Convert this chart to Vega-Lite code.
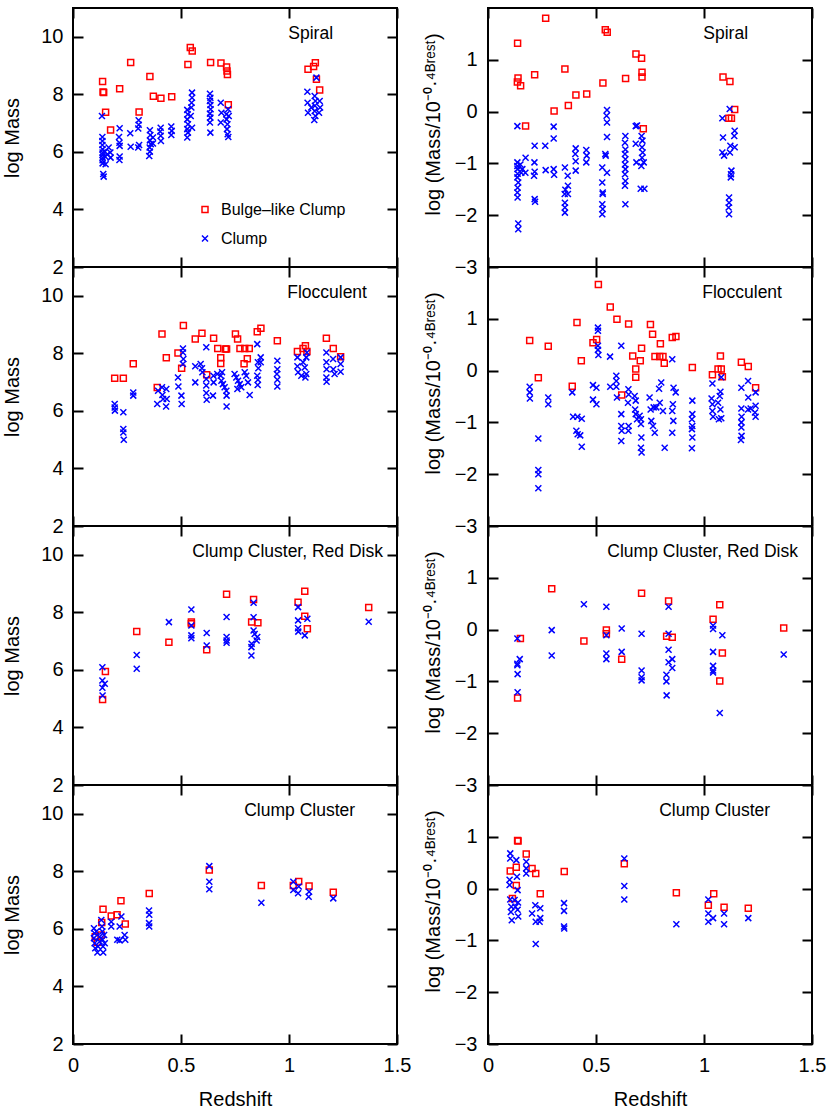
{
"$schema": "https://vega.github.io/schema/vega-lite/v6.json",
"padding": {"left": 1, "top": 6, "right": 5, "bottom": 5},
"config": {
 "font": "Liberation Sans",
 "view": {"stroke": "black", "strokeWidth": 2},
 "axis": {"grid": false, "domain": false, "ticks": true, "tickColor": "#000000", "tickOpacity": 1, "tickWidth": 2, "tickSize": 10, "offset": -10, "zindex": 1, "labelColor": "black", "titleColor": "black", "labelFont": "Liberation Sans", "titleFont": "Liberation Sans", "titleFontWeight": "normal", "labelFontSize": 20, "titleFontSize": 20, "labelFlush": false, "labelOverlap": false},
 "text": {"font": "Liberation Sans", "fontSize": 17.5, "color": "black"}
},
"datasets": {
"spiral_mass": [
{"t":"B","z":0.137,"v":8.45},{"t":"B","z":0.139,"v":8.08},{"t":"B","z":0.142,"v":8.06},{"t":"B","z":0.151,"v":7.38},{"t":"B","z":0.174,"v":6.76},{"t":"B","z":0.216,"v":8.19},{"t":"B","z":0.267,"v":9.11},{"t":"B","z":0.306,"v":7.39},{"t":"B","z":0.356,"v":8.62},{"t":"B","z":0.372,"v":7.93},{"t":"B","z":0.407,"v":7.86},{"t":"B","z":0.457,"v":7.92},{"t":"B","z":0.532,"v":9.04},{"t":"B","z":0.543,"v":9.63},{"t":"B","z":0.552,"v":9.51},{"t":"B","z":0.637,"v":9.11},{"t":"B","z":0.685,"v":9.09},{"t":"B","z":0.711,"v":8.95},{"t":"B","z":0.713,"v":8.81},{"t":"B","z":0.715,"v":8.69},{"t":"B","z":0.719,"v":7.64},{"t":"B","z":1.088,"v":8.87},{"t":"B","z":1.114,"v":8.97},{"t":"B","z":1.122,"v":9.10},{"t":"B","z":1.127,"v":8.52},{"t":"B","z":1.142,"v":8.15},
{"t":"C","z":0.134,"v":7.25},{"t":"C","z":0.136,"v":6.52},{"t":"C","z":0.136,"v":6.38},{"t":"C","z":0.136,"v":6.24},{"t":"C","z":0.137,"v":6.09},{"t":"C","z":0.137,"v":5.98},{"t":"C","z":0.137,"v":5.90},{"t":"C","z":0.137,"v":5.80},{"t":"C","z":0.137,"v":5.71},{"t":"C","z":0.137,"v":5.60},{"t":"C","z":0.140,"v":5.23},{"t":"C","z":0.142,"v":5.14},{"t":"C","z":0.147,"v":6.00},{"t":"C","z":0.150,"v":5.83},{"t":"C","z":0.151,"v":5.57},{"t":"C","z":0.159,"v":5.92},{"t":"C","z":0.165,"v":6.15},{"t":"C","z":0.173,"v":5.98},{"t":"C","z":0.174,"v":5.80},
{"t":"C","z":0.216,"v":6.82},{"t":"C","z":0.213,"v":6.52},{"t":"C","z":0.215,"v":6.32},{"t":"C","z":0.216,"v":6.21},{"t":"C","z":0.216,"v":5.84},{"t":"C","z":0.215,"v":5.72},
{"t":"C","z":0.265,"v":6.65},{"t":"C","z":0.267,"v":6.18},
{"t":"C","z":0.304,"v":7.10},{"t":"C","z":0.304,"v":6.94},{"t":"C","z":0.302,"v":6.81},{"t":"C","z":0.306,"v":6.24},{"t":"C","z":0.302,"v":6.15},
{"t":"C","z":0.356,"v":6.75},{"t":"C","z":0.358,"v":6.59},{"t":"C","z":0.356,"v":6.40},{"t":"C","z":0.360,"v":6.27},{"t":"C","z":0.355,"v":6.15},{"t":"C","z":0.356,"v":6.01},{"t":"C","z":0.353,"v":5.86},{"t":"C","z":0.370,"v":6.50},{"t":"C","z":0.370,"v":6.29},
{"t":"C","z":0.406,"v":6.84},{"t":"C","z":0.404,"v":6.71},{"t":"C","z":0.406,"v":6.56},{"t":"C","z":0.407,"v":6.38},
{"t":"C","z":0.455,"v":6.88},{"t":"C","z":0.457,"v":6.73},{"t":"C","z":0.455,"v":6.59},
{"t":"C","z":0.529,"v":7.46},{"t":"C","z":0.531,"v":7.31},{"t":"C","z":0.529,"v":7.13},{"t":"C","z":0.532,"v":6.96},{"t":"C","z":0.529,"v":6.79},{"t":"C","z":0.532,"v":6.67},{"t":"C","z":0.529,"v":6.50},{"t":"C","z":0.551,"v":8.06},{"t":"C","z":0.551,"v":7.88},{"t":"C","z":0.549,"v":7.71},{"t":"C","z":0.548,"v":7.54},{"t":"C","z":0.545,"v":7.25},{"t":"C","z":0.551,"v":6.84},
{"t":"C","z":0.634,"v":8.02},{"t":"C","z":0.636,"v":7.88},{"t":"C","z":0.634,"v":7.77},{"t":"C","z":0.636,"v":7.63},{"t":"C","z":0.637,"v":7.48},{"t":"C","z":0.634,"v":7.33},{"t":"C","z":0.636,"v":7.19},{"t":"C","z":0.634,"v":7.02},{"t":"C","z":0.636,"v":6.67},
{"t":"C","z":0.684,"v":7.71},{"t":"C","z":0.687,"v":7.36},{"t":"C","z":0.684,"v":7.02},{"t":"C","z":0.710,"v":7.31},{"t":"C","z":0.711,"v":7.13},{"t":"C","z":0.715,"v":6.96},{"t":"C","z":0.713,"v":6.79},{"t":"C","z":0.716,"v":6.61},{"t":"C","z":0.719,"v":6.52},{"t":"C","z":0.721,"v":7.25},{"t":"C","z":0.718,"v":7.48},
{"t":"C","z":1.085,"v":8.09},{"t":"C","z":1.086,"v":7.71},{"t":"C","z":1.088,"v":7.36},{"t":"C","z":1.119,"v":7.94},{"t":"C","z":1.122,"v":7.77},{"t":"C","z":1.120,"v":7.60},{"t":"C","z":1.119,"v":7.42},{"t":"C","z":1.122,"v":7.25},{"t":"C","z":1.117,"v":7.11},{"t":"C","z":1.127,"v":8.58},{"t":"C","z":1.142,"v":7.77},{"t":"C","z":1.144,"v":7.54},{"t":"C","z":1.139,"v":7.36},{"t":"C","z":1.103,"v":7.54}
],
"spiral_ratio": [
{"t":"B","z":0.137,"v":1.32},{"t":"B","z":0.139,"v":0.65},{"t":"B","z":0.136,"v":0.57},{"t":"B","z":0.151,"v":0.50},{"t":"B","z":0.174,"v":-0.28},{"t":"B","z":0.216,"v":0.71},{"t":"B","z":0.267,"v":1.80},{"t":"B","z":0.306,"v":0.01},{"t":"B","z":0.356,"v":0.82},{"t":"B","z":0.372,"v":0.12},{"t":"B","z":0.407,"v":0.32},{"t":"B","z":0.457,"v":0.34},{"t":"B","z":0.532,"v":0.55},{"t":"B","z":0.543,"v":1.58},{"t":"B","z":0.552,"v":1.53},{"t":"B","z":0.637,"v":0.64},{"t":"B","z":0.685,"v":1.11},{"t":"B","z":0.711,"v":1.03},{"t":"B","z":0.713,"v":0.76},{"t":"B","z":0.713,"v":0.67},{"t":"B","z":0.719,"v":-0.33},{"t":"B","z":1.088,"v":0.67},{"t":"B","z":1.120,"v":0.58},{"t":"B","z":1.115,"v":-0.13},{"t":"B","z":1.127,"v":-0.13},{"t":"B","z":1.142,"v":0.04},
{"t":"C","z":0.136,"v":-0.28},{"t":"C","z":0.136,"v":-0.98},{"t":"C","z":0.136,"v":-1.05},{"t":"C","z":0.137,"v":-1.11},{"t":"C","z":0.137,"v":-1.20},{"t":"C","z":0.136,"v":-1.27},{"t":"C","z":0.140,"v":-1.37},{"t":"C","z":0.137,"v":-1.47},{"t":"C","z":0.136,"v":-1.56},{"t":"C","z":0.137,"v":-1.66},{"t":"C","z":0.140,"v":-2.16},{"t":"C","z":0.140,"v":-2.27},{"t":"C","z":0.150,"v":-1.02},{"t":"C","z":0.154,"v":-1.18},{"t":"C","z":0.159,"v":-1.11},{"t":"C","z":0.174,"v":-0.89},{"t":"C","z":0.173,"v":-1.18},
{"t":"C","z":0.216,"v":-0.66},{"t":"C","z":0.215,"v":-0.98},{"t":"C","z":0.216,"v":-1.16},{"t":"C","z":0.213,"v":-1.24},{"t":"C","z":0.216,"v":-1.69},{"t":"C","z":0.218,"v":-1.74},
{"t":"C","z":0.265,"v":-0.66},{"t":"C","z":0.267,"v":-1.13},
{"t":"C","z":0.304,"v":-0.29},{"t":"C","z":0.304,"v":-0.52},{"t":"C","z":0.304,"v":-1.11},{"t":"C","z":0.306,"v":-1.22},
{"t":"C","z":0.356,"v":-1.08},{"t":"C","z":0.369,"v":-1.24},{"t":"C","z":0.370,"v":-1.43},{"t":"C","z":0.358,"v":-1.51},{"t":"C","z":0.355,"v":-1.59},{"t":"C","z":0.370,"v":-1.59},{"t":"C","z":0.356,"v":-1.76},{"t":"C","z":0.356,"v":-1.85},{"t":"C","z":0.356,"v":-1.95},
{"t":"C","z":0.406,"v":-0.71},{"t":"C","z":0.404,"v":-0.82},{"t":"C","z":0.406,"v":-0.96},{"t":"C","z":0.406,"v":-1.14},
{"t":"C","z":0.455,"v":-0.74},{"t":"C","z":0.457,"v":-0.85},{"t":"C","z":0.455,"v":-0.98},
{"t":"C","z":0.551,"v":0.03},{"t":"C","z":0.549,"v":-0.08},{"t":"C","z":0.551,"v":-0.21},{"t":"C","z":0.551,"v":-0.49},{"t":"C","z":0.543,"v":-0.82},{"t":"C","z":0.545,"v":-0.85},{"t":"C","z":0.529,"v":-1.08},{"t":"C","z":0.551,"v":-1.18},{"t":"C","z":0.529,"v":-1.37},{"t":"C","z":0.531,"v":-1.56},{"t":"C","z":0.531,"v":-1.59},{"t":"C","z":0.529,"v":-1.79},{"t":"C","z":0.531,"v":-1.88},{"t":"C","z":0.529,"v":-1.98},
{"t":"C","z":0.636,"v":-0.47},{"t":"C","z":0.634,"v":-0.60},{"t":"C","z":0.636,"v":-0.73},{"t":"C","z":0.634,"v":-0.82},{"t":"C","z":0.636,"v":-0.92},{"t":"C","z":0.634,"v":-1.02},{"t":"C","z":0.636,"v":-1.11},{"t":"C","z":0.634,"v":-1.21},{"t":"C","z":0.636,"v":-1.34},{"t":"C","z":0.634,"v":-1.43},{"t":"C","z":0.636,"v":-1.79},
{"t":"C","z":0.684,"v":-0.28},{"t":"C","z":0.690,"v":-0.27},{"t":"C","z":0.684,"v":-0.62},{"t":"C","z":0.711,"v":-0.47},{"t":"C","z":0.715,"v":-0.56},{"t":"C","z":0.713,"v":-0.69},{"t":"C","z":0.716,"v":-0.79},{"t":"C","z":0.713,"v":-0.89},{"t":"C","z":0.710,"v":-1.05},{"t":"C","z":0.721,"v":-0.98},{"t":"C","z":0.687,"v":-0.98},{"t":"C","z":0.707,"v":-1.49},{"t":"C","z":0.724,"v":-1.49},
{"t":"C","z":1.085,"v":-0.13},{"t":"C","z":1.088,"v":-0.50},{"t":"C","z":1.085,"v":-0.79},{"t":"C","z":1.093,"v":-0.85},{"t":"C","z":1.119,"v":0.05},{"t":"C","z":1.122,"v":-0.66},{"t":"C","z":1.120,"v":-0.79},{"t":"C","z":1.127,"v":-1.14},{"t":"C","z":1.125,"v":-1.21},{"t":"C","z":1.124,"v":-1.27},{"t":"C","z":1.116,"v":-1.66},{"t":"C","z":1.116,"v":-1.76},{"t":"C","z":1.114,"v":-1.85},{"t":"C","z":1.116,"v":-1.98},{"t":"C","z":1.142,"v":-0.37},{"t":"C","z":1.140,"v":-0.47},{"t":"C","z":1.142,"v":-0.69}
],
"flocc_mass": [
{"t":"B","z":0.193,"v":7.13},{"t":"B","z":0.233,"v":7.13},{"t":"B","z":0.279,"v":7.64},{"t":"B","z":0.390,"v":6.81},{"t":"B","z":0.412,"v":8.67},{"t":"B","z":0.432,"v":7.85},{"t":"B","z":0.486,"v":8.01},{"t":"B","z":0.503,"v":7.48},{"t":"B","z":0.511,"v":8.97},{"t":"B","z":0.566,"v":8.50},{"t":"B","z":0.597,"v":8.70},{"t":"B","z":0.619,"v":7.26},{"t":"B","z":0.651,"v":8.52},{"t":"B","z":0.670,"v":8.17},{"t":"B","z":0.684,"v":7.85},{"t":"B","z":0.684,"v":7.65},{"t":"B","z":0.705,"v":8.15},{"t":"B","z":0.711,"v":8.15},{"t":"B","z":0.752,"v":8.67},{"t":"B","z":0.762,"v":8.50},{"t":"B","z":0.773,"v":8.17},{"t":"B","z":0.795,"v":8.17},{"t":"B","z":0.816,"v":8.17},{"t":"B","z":0.792,"v":7.64},{"t":"B","z":0.807,"v":7.81},{"t":"B","z":0.853,"v":8.75},{"t":"B","z":0.870,"v":8.87},{"t":"B","z":0.946,"v":8.44},{"t":"B","z":1.039,"v":8.06},{"t":"B","z":1.065,"v":8.17},{"t":"B","z":1.076,"v":8.26},{"t":"B","z":1.083,"v":8.06},{"t":"B","z":1.173,"v":8.52},{"t":"B","z":1.205,"v":8.17},{"t":"B","z":1.239,"v":7.88},
{"t":"C","z":0.193,"v":6.24},{"t":"C","z":0.193,"v":6.12},{"t":"C","z":0.194,"v":6.01},{"t":"C","z":0.233,"v":5.95},{"t":"C","z":0.233,"v":5.37},{"t":"C","z":0.233,"v":5.25},{"t":"C","z":0.235,"v":5.00},{"t":"C","z":0.279,"v":6.64},{"t":"C","z":0.279,"v":6.53},
{"t":"C","z":0.394,"v":6.70},{"t":"C","z":0.412,"v":6.82},{"t":"C","z":0.414,"v":6.55},{"t":"C","z":0.417,"v":6.41},{"t":"C","z":0.432,"v":6.76},{"t":"C","z":0.434,"v":6.41},{"t":"C","z":0.390,"v":6.24},{"t":"C","z":0.431,"v":6.15},
{"t":"C","z":0.486,"v":7.16},{"t":"C","z":0.488,"v":6.85},{"t":"C","z":0.502,"v":6.53},{"t":"C","z":0.503,"v":6.24},{"t":"C","z":0.509,"v":8.17},{"t":"C","z":0.509,"v":8.03},{"t":"C","z":0.511,"v":7.80},{"t":"C","z":0.509,"v":7.63},
{"t":"C","z":0.566,"v":7.55},{"t":"C","z":0.566,"v":6.99},{"t":"C","z":0.591,"v":7.63},{"t":"C","z":0.597,"v":7.48},{"t":"C","z":0.599,"v":7.34},{"t":"C","z":0.617,"v":8.21},{"t":"C","z":0.617,"v":7.11},{"t":"C","z":0.617,"v":6.88},{"t":"C","z":0.617,"v":6.62},{"t":"C","z":0.619,"v":6.39},{"t":"C","z":0.650,"v":7.22},{"t":"C","z":0.651,"v":6.99},{"t":"C","z":0.648,"v":6.53},
{"t":"C","z":0.668,"v":7.28},{"t":"C","z":0.684,"v":7.22},{"t":"C","z":0.687,"v":7.05},{"t":"C","z":0.694,"v":6.93},{"t":"C","z":0.702,"v":6.82},{"t":"C","z":0.710,"v":6.70},{"t":"C","z":0.711,"v":6.53},{"t":"C","z":0.711,"v":6.15},{"t":"C","z":0.690,"v":7.34},
{"t":"C","z":0.748,"v":7.28},{"t":"C","z":0.756,"v":7.16},{"t":"C","z":0.764,"v":7.05},{"t":"C","z":0.772,"v":6.93},{"t":"C","z":0.761,"v":6.76},{"t":"C","z":0.779,"v":6.82},{"t":"C","z":0.795,"v":7.34},{"t":"C","z":0.802,"v":7.22},{"t":"C","z":0.818,"v":6.55},{"t":"C","z":0.810,"v":6.99},
{"t":"C","z":0.853,"v":8.32},{"t":"C","z":0.856,"v":7.69},{"t":"C","z":0.858,"v":7.48},{"t":"C","z":0.853,"v":7.22},{"t":"C","z":0.856,"v":7.08},{"t":"C","z":0.855,"v":6.90},{"t":"C","z":0.869,"v":7.86},{"t":"C","z":0.869,"v":7.69},
{"t":"C","z":0.946,"v":7.74},{"t":"C","z":0.946,"v":7.45},{"t":"C","z":0.944,"v":7.28},{"t":"C","z":0.946,"v":7.08},{"t":"C","z":0.946,"v":6.85},
{"t":"C","z":1.039,"v":7.86},{"t":"C","z":1.039,"v":7.55},{"t":"C","z":1.042,"v":7.34},{"t":"C","z":1.065,"v":7.69},{"t":"C","z":1.073,"v":7.51},{"t":"C","z":1.080,"v":7.86},{"t":"C","z":1.080,"v":7.28},{"t":"C","z":1.076,"v":7.16},{"t":"C","z":1.057,"v":7.22},{"t":"C","z":1.083,"v":8.03},
{"t":"C","z":1.173,"v":8.03},{"t":"C","z":1.173,"v":7.69},{"t":"C","z":1.174,"v":7.45},{"t":"C","z":1.173,"v":7.16},{"t":"C","z":1.174,"v":7.01},{"t":"C","z":1.204,"v":7.80},{"t":"C","z":1.205,"v":7.45},{"t":"C","z":1.211,"v":7.28},{"t":"C","z":1.239,"v":7.86},{"t":"C","z":1.239,"v":7.63},{"t":"C","z":1.239,"v":7.36}
],
"flocc_ratio": [
{"t":"B","z":0.193,"v":0.58},{"t":"B","z":0.233,"v":-0.14},{"t":"B","z":0.279,"v":0.47},{"t":"B","z":0.390,"v":-0.30},{"t":"B","z":0.412,"v":0.93},{"t":"B","z":0.432,"v":0.19},{"t":"B","z":0.486,"v":0.54},{"t":"B","z":0.503,"v":0.60},{"t":"B","z":0.511,"v":1.66},{"t":"B","z":0.566,"v":1.23},{"t":"B","z":0.597,"v":0.99},{"t":"B","z":0.619,"v":-0.47},{"t":"B","z":0.651,"v":0.90},{"t":"B","z":0.670,"v":0.28},{"t":"B","z":0.684,"v":0.03},{"t":"B","z":0.684,"v":-0.13},{"t":"B","z":0.705,"v":0.19},{"t":"B","z":0.711,"v":0.43},{"t":"B","z":0.752,"v":0.89},{"t":"B","z":0.762,"v":0.70},{"t":"B","z":0.773,"v":0.27},{"t":"B","z":0.795,"v":0.27},{"t":"B","z":0.798,"v":0.52},{"t":"B","z":0.810,"v":0.27},{"t":"B","z":0.816,"v":0.14},{"t":"B","z":0.853,"v":0.64},{"t":"B","z":0.870,"v":0.66},{"t":"B","z":0.946,"v":0.06},{"t":"B","z":1.039,"v":-0.08},{"t":"B","z":1.065,"v":0.03},{"t":"B","z":1.076,"v":0.28},{"t":"B","z":1.080,"v":0.03},{"t":"B","z":1.085,"v":-0.12},{"t":"B","z":1.173,"v":0.16},{"t":"B","z":1.205,"v":0.08},{"t":"B","z":1.239,"v":-0.33},
{"t":"C","z":0.193,"v":-0.31},{"t":"C","z":0.193,"v":-0.42},{"t":"C","z":0.194,"v":-0.54},{"t":"C","z":0.233,"v":-1.31},{"t":"C","z":0.233,"v":-1.92},{"t":"C","z":0.233,"v":-2.00},{"t":"C","z":0.233,"v":-2.27},{"t":"C","z":0.279,"v":-0.52},{"t":"C","z":0.279,"v":-0.65},
{"t":"C","z":0.390,"v":-0.42},{"t":"C","z":0.394,"v":-0.89},{"t":"C","z":0.414,"v":-0.89},{"t":"C","z":0.434,"v":-0.93},{"t":"C","z":0.409,"v":-1.16},{"t":"C","z":0.415,"v":-1.23},{"t":"C","z":0.427,"v":-1.25},{"t":"C","z":0.434,"v":-1.47},
{"t":"C","z":0.486,"v":-0.28},{"t":"C","z":0.502,"v":-0.33},{"t":"C","z":0.486,"v":-0.56},{"t":"C","z":0.502,"v":-0.65},{"t":"C","z":0.509,"v":0.83},{"t":"C","z":0.509,"v":0.77},{"t":"C","z":0.509,"v":0.48},{"t":"C","z":0.509,"v":0.40},{"t":"C","z":0.511,"v":0.30},
{"t":"C","z":0.565,"v":0.27},{"t":"C","z":0.566,"v":-0.31},{"t":"C","z":0.594,"v":-0.10},{"t":"C","z":0.594,"v":-0.20},{"t":"C","z":0.594,"v":-0.31},{"t":"C","z":0.597,"v":-0.52},{"t":"C","z":0.617,"v":0.48},{"t":"C","z":0.617,"v":-0.84},{"t":"C","z":0.617,"v":-1.07},{"t":"C","z":0.619,"v":-1.16},{"t":"C","z":0.617,"v":-1.36},{"t":"C","z":0.650,"v":-0.36},{"t":"C","z":0.651,"v":-0.46},{"t":"C","z":0.648,"v":-0.62},{"t":"C","z":0.651,"v":-1.07},{"t":"C","z":0.650,"v":-1.16},
{"t":"C","z":0.679,"v":-0.49},{"t":"C","z":0.684,"v":-0.58},{"t":"C","z":0.681,"v":-0.75},{"t":"C","z":0.684,"v":-0.84},{"t":"C","z":0.702,"v":-0.87},{"t":"C","z":0.708,"v":-0.94},{"t":"C","z":0.708,"v":-1.03},{"t":"C","z":0.710,"v":-1.29},{"t":"C","z":0.708,"v":-1.49},{"t":"C","z":0.711,"v":-1.58},{"t":"C","z":0.690,"v":-0.94},
{"t":"C","z":0.748,"v":-0.52},{"t":"C","z":0.753,"v":-0.75},{"t":"C","z":0.756,"v":-0.97},{"t":"C","z":0.764,"v":-1.07},{"t":"C","z":0.772,"v":-1.20},{"t":"C","z":0.767,"v":-0.71},{"t":"C","z":0.779,"v":-0.71},{"t":"C","z":0.792,"v":-0.35},{"t":"C","z":0.795,"v":-0.62},{"t":"C","z":0.802,"v":-0.23},{"t":"C","z":0.810,"v":-0.78},{"t":"C","z":0.818,"v":-1.49},
{"t":"C","z":0.853,"v":0.22},{"t":"C","z":0.859,"v":-0.33},{"t":"C","z":0.869,"v":-0.42},{"t":"C","z":0.856,"v":-0.65},{"t":"C","z":0.853,"v":-0.78},{"t":"C","z":0.858,"v":-0.97},{"t":"C","z":0.853,"v":-1.20},
{"t":"C","z":0.946,"v":-0.58},{"t":"C","z":0.946,"v":-0.84},{"t":"C","z":0.944,"v":-0.94},{"t":"C","z":0.946,"v":-1.07},{"t":"C","z":0.944,"v":-1.13},{"t":"C","z":0.946,"v":-1.29},{"t":"C","z":0.944,"v":-1.50},
{"t":"C","z":1.039,"v":-0.25},{"t":"C","z":1.035,"v":-0.54},{"t":"C","z":1.039,"v":-0.65},{"t":"C","z":1.039,"v":-0.78},{"t":"C","z":1.042,"v":-0.89},{"t":"C","z":1.065,"v":-0.62},{"t":"C","z":1.073,"v":-0.49},{"t":"C","z":1.076,"v":-0.41},{"t":"C","z":1.080,"v":-0.13},{"t":"C","z":1.076,"v":-0.75},{"t":"C","z":1.080,"v":-0.92},{"t":"C","z":1.069,"v":-0.94},
{"t":"C","z":1.173,"v":-0.33},{"t":"C","z":1.173,"v":-0.73},{"t":"C","z":1.174,"v":-0.89},{"t":"C","z":1.173,"v":-1.00},{"t":"C","z":1.173,"v":-1.10},{"t":"C","z":1.174,"v":-1.26},{"t":"C","z":1.171,"v":-1.34},{"t":"C","z":1.204,"v":-0.20},{"t":"C","z":1.205,"v":-0.52},{"t":"C","z":1.204,"v":-0.75},{"t":"C","z":1.216,"v":-0.73},{"t":"C","z":1.239,"v":-0.42},{"t":"C","z":1.239,"v":-0.68},{"t":"C","z":1.239,"v":-0.89},{"t":"C","z":1.236,"v":-0.81}
],
"ccrd_mass": [
{"t":"B","z":0.137,"v":4.97},{"t":"B","z":0.150,"v":5.94},{"t":"B","z":0.295,"v":7.33},{"t":"B","z":0.444,"v":6.96},{"t":"B","z":0.548,"v":7.66},{"t":"B","z":0.548,"v":7.60},{"t":"B","z":0.619,"v":6.70},{"t":"B","z":0.711,"v":8.63},{"t":"B","z":0.836,"v":8.45},{"t":"B","z":0.827,"v":7.66},{"t":"B","z":0.856,"v":7.64},{"t":"B","z":1.042,"v":8.35},{"t":"B","z":1.073,"v":8.73},{"t":"B","z":1.073,"v":7.86},{"t":"B","z":1.085,"v":7.43},{"t":"B","z":1.369,"v":8.17},
{"t":"C","z":0.136,"v":6.09},{"t":"C","z":0.136,"v":5.63},{"t":"C","z":0.147,"v":5.52},{"t":"C","z":0.136,"v":5.38},{"t":"C","z":0.137,"v":5.11},
{"t":"C","z":0.295,"v":6.52},{"t":"C","z":0.295,"v":6.04},{"t":"C","z":0.444,"v":7.66},
{"t":"C","z":0.548,"v":8.10},{"t":"C","z":0.548,"v":7.54},{"t":"C","z":0.548,"v":7.20},{"t":"C","z":0.548,"v":7.10},
{"t":"C","z":0.619,"v":7.28},{"t":"C","z":0.619,"v":6.85},
{"t":"C","z":0.711,"v":7.84},{"t":"C","z":0.711,"v":7.14},{"t":"C","z":0.711,"v":7.02},{"t":"C","z":0.711,"v":6.94},
{"t":"C","z":0.836,"v":8.33},{"t":"C","z":0.836,"v":7.83},{"t":"C","z":0.836,"v":7.37},{"t":"C","z":0.841,"v":7.25},{"t":"C","z":0.853,"v":7.14},{"t":"C","z":0.850,"v":7.02},{"t":"C","z":0.827,"v":6.91},{"t":"C","z":0.826,"v":6.79},{"t":"C","z":0.826,"v":6.50},
{"t":"C","z":1.042,"v":8.18},{"t":"C","z":1.042,"v":7.72},{"t":"C","z":1.042,"v":7.45},{"t":"C","z":1.043,"v":7.33},{"t":"C","z":1.073,"v":7.20},{"t":"C","z":1.085,"v":7.78},
{"t":"C","z":1.369,"v":7.67}
],
"ccrd_ratio": [
{"t":"B","z":0.137,"v":-1.32},{"t":"B","z":0.150,"v":-0.17},{"t":"B","z":0.295,"v":0.79},{"t":"B","z":0.444,"v":-0.22},{"t":"B","z":0.548,"v":-0.01},{"t":"B","z":0.548,"v":-0.08},{"t":"B","z":0.619,"v":-0.57},{"t":"B","z":0.711,"v":0.70},{"t":"B","z":0.836,"v":0.55},{"t":"B","z":0.827,"v":-0.13},{"t":"B","z":0.853,"v":-0.15},{"t":"B","z":1.042,"v":0.20},{"t":"B","z":1.073,"v":0.48},{"t":"B","z":1.085,"v":-0.45},{"t":"B","z":1.073,"v":-0.99},{"t":"B","z":1.369,"v":0.03},
{"t":"C","z":0.136,"v":-0.17},{"t":"C","z":0.136,"v":-0.66},{"t":"C","z":0.147,"v":-0.57},{"t":"C","z":0.136,"v":-0.69},{"t":"C","z":0.137,"v":-0.86},{"t":"C","z":0.137,"v":-1.21},
{"t":"C","z":0.295,"v":-0.01},{"t":"C","z":0.295,"v":-0.50},{"t":"C","z":0.444,"v":0.49},
{"t":"C","z":0.548,"v":0.44},{"t":"C","z":0.548,"v":-0.11},{"t":"C","z":0.548,"v":-0.46},{"t":"C","z":0.548,"v":-0.57},
{"t":"C","z":0.619,"v":0.02},{"t":"C","z":0.619,"v":-0.43},
{"t":"C","z":0.711,"v":-0.08},{"t":"C","z":0.711,"v":-0.79},{"t":"C","z":0.711,"v":-0.92},{"t":"C","z":0.711,"v":-0.98},
{"t":"C","z":0.836,"v":0.44},{"t":"C","z":0.836,"v":-0.08},{"t":"C","z":0.836,"v":-0.39},{"t":"C","z":0.836,"v":-0.63},{"t":"C","z":0.853,"v":-0.57},{"t":"C","z":0.853,"v":-0.74},{"t":"C","z":0.826,"v":-0.87},{"t":"C","z":0.826,"v":-1.00},{"t":"C","z":0.827,"v":-1.27},
{"t":"C","z":1.042,"v":0.08},{"t":"C","z":1.042,"v":0.01},{"t":"C","z":1.042,"v":-0.43},{"t":"C","z":1.042,"v":-0.70},{"t":"C","z":1.042,"v":-0.79},{"t":"C","z":1.042,"v":-0.83},{"t":"C","z":1.085,"v":-0.11},{"t":"C","z":1.073,"v":-1.61},
{"t":"C","z":1.369,"v":-0.48}
],
"cc_mass": [
{"t":"B","z":0.103,"v":5.73},{"t":"B","z":0.113,"v":5.54},{"t":"B","z":0.131,"v":5.79},{"t":"B","z":0.133,"v":6.22},{"t":"B","z":0.139,"v":6.68},{"t":"B","z":0.177,"v":6.45},{"t":"B","z":0.204,"v":6.49},{"t":"B","z":0.222,"v":6.98},{"t":"B","z":0.242,"v":6.17},{"t":"B","z":0.353,"v":7.23},{"t":"B","z":0.631,"v":8.05},{"t":"B","z":0.872,"v":7.51},{"t":"B","z":1.020,"v":7.51},{"t":"B","z":1.045,"v":7.65},{"t":"B","z":1.093,"v":7.49},{"t":"B","z":1.205,"v":7.27},
{"t":"C","z":0.097,"v":6.02},{"t":"C","z":0.100,"v":5.85},{"t":"C","z":0.097,"v":5.68},{"t":"C","z":0.100,"v":5.50},{"t":"C","z":0.103,"v":5.33},{"t":"C","z":0.113,"v":5.18},{"t":"C","z":0.116,"v":5.39},{"t":"C","z":0.108,"v":5.91},{"t":"C","z":0.123,"v":5.73},{"t":"C","z":0.123,"v":5.56},{"t":"C","z":0.131,"v":6.31},{"t":"C","z":0.134,"v":6.08},{"t":"C","z":0.136,"v":5.91},{"t":"C","z":0.137,"v":5.62},{"t":"C","z":0.139,"v":5.39},{"t":"C","z":0.140,"v":5.18},{"t":"C","z":0.147,"v":5.50},{"t":"C","z":0.144,"v":5.79},
{"t":"C","z":0.177,"v":6.25},{"t":"C","z":0.177,"v":6.08},{"t":"C","z":0.205,"v":5.62},{"t":"C","z":0.216,"v":5.60},{"t":"C","z":0.216,"v":6.08},{"t":"C","z":0.224,"v":6.43},{"t":"C","z":0.239,"v":5.79},{"t":"C","z":0.242,"v":5.62},
{"t":"C","z":0.352,"v":6.64},{"t":"C","z":0.353,"v":6.49},{"t":"C","z":0.352,"v":6.20},{"t":"C","z":0.353,"v":6.08},
{"t":"C","z":0.631,"v":8.18},{"t":"C","z":0.631,"v":7.64},{"t":"C","z":0.631,"v":7.38},
{"t":"C","z":0.872,"v":6.91},
{"t":"C","z":1.020,"v":7.64},{"t":"C","z":1.020,"v":7.35},{"t":"C","z":1.042,"v":7.24},{"t":"C","z":1.045,"v":7.47},{"t":"C","z":1.093,"v":7.29},{"t":"C","z":1.091,"v":7.12},{"t":"C","z":1.205,"v":7.06}
],
"cc_ratio": [
{"t":"B","z":0.139,"v":0.92},{"t":"B","z":0.137,"v":0.93},{"t":"B","z":0.103,"v":0.34},{"t":"B","z":0.113,"v":-0.19},{"t":"B","z":0.131,"v":0.41},{"t":"B","z":0.131,"v":0.06},{"t":"B","z":0.177,"v":0.67},{"t":"B","z":0.204,"v":0.39},{"t":"B","z":0.221,"v":0.29},{"t":"B","z":0.242,"v":-0.10},{"t":"B","z":0.353,"v":0.33},{"t":"B","z":0.631,"v":0.48},{"t":"B","z":0.872,"v":-0.08},{"t":"B","z":1.020,"v":-0.32},{"t":"B","z":1.045,"v":-0.10},{"t":"B","z":1.093,"v":-0.36},{"t":"B","z":1.205,"v":-0.38},
{"t":"C","z":0.103,"v":0.68},{"t":"C","z":0.103,"v":0.58},{"t":"C","z":0.100,"v":0.17},{"t":"C","z":0.100,"v":0.07},{"t":"C","z":0.103,"v":-0.21},{"t":"C","z":0.108,"v":-0.35},{"t":"C","z":0.106,"v":-0.45},{"t":"C","z":0.110,"v":-0.61},{"t":"C","z":0.123,"v":-0.22},{"t":"C","z":0.127,"v":-0.35},{"t":"C","z":0.131,"v":0.55},{"t":"C","z":0.134,"v":0.23},{"t":"C","z":0.137,"v":-0.03},{"t":"C","z":0.139,"v":-0.27},{"t":"C","z":0.137,"v":-0.41},{"t":"C","z":0.140,"v":-0.54},
{"t":"C","z":0.177,"v":0.52},{"t":"C","z":0.177,"v":0.29},{"t":"C","z":0.177,"v":0.39},{"t":"C","z":0.204,"v":-0.48},{"t":"C","z":0.219,"v":-0.32},{"t":"C","z":0.221,"v":-0.64},{"t":"C","z":0.221,"v":-1.07},{"t":"C","z":0.242,"v":-0.38},{"t":"C","z":0.242,"v":-0.57},{"t":"C","z":0.239,"v":-0.64},
{"t":"C","z":0.352,"v":-0.28},{"t":"C","z":0.352,"v":-0.43},{"t":"C","z":0.352,"v":-0.73},{"t":"C","z":0.353,"v":-0.77},
{"t":"C","z":0.631,"v":0.58},{"t":"C","z":0.631,"v":0.05},{"t":"C","z":0.631,"v":-0.21},
{"t":"C","z":0.872,"v":-0.69},
{"t":"C","z":1.020,"v":-0.21},{"t":"C","z":1.020,"v":-0.48},{"t":"C","z":1.020,"v":-0.64},{"t":"C","z":1.042,"v":-0.57},{"t":"C","z":1.093,"v":-0.48},{"t":"C","z":1.093,"v":-0.69},{"t":"C","z":1.205,"v":-0.57}
]
},
"columns": 2,
"spacing": {"row": 0, "column": 91},
"bounds": "flush",
"concat": [
{"width": 324, "height": 259, "data": {"name": "spiral_mass"},
 "layer": [
  {"mark": {"type": "point", "filled": false, "strokeWidth": 1.5, "size": 36, "opacity": 1},
   "encoding": {
    "x": {"field": "z", "type": "quantitative", "scale": {"domain": [0, 1.5], "nice": false, "zero": false}, "axis": {"orient": "bottom", "values": [0, 0.5, 1, 1.5], "labels": false, "title": null}},
    "y": {"field": "v", "type": "quantitative", "scale": {"domain": [2, 11], "nice": false, "zero": false}, "axis": {"orient": "left", "values": [2, 4, 6, 8, 10], "labelPadding": 10, "title": "log Mass", "titlePadding": 18}},
    "color": {"field": "t", "type": "nominal", "scale": {"domain": ["B", "C"], "range": ["#ff0000", "#0000ff"]}, "legend": {"orient": "none", "legendX": 124, "legendY": 193.5, "title": null, "padding": 0, "labelFontSize": 16, "labelFont": "Liberation Sans", "labelColor": "black", "symbolSize": 36, "symbolStrokeWidth": 1.5, "rowPadding": 13, "labelOffset": 8, "labelExpr": "datum.label == 'B' ? 'Bulge–like Clump' : 'Clump'"}},
    "shape": {"field": "t", "type": "nominal", "scale": {"domain": ["B", "C"], "range": ["square", "M-1,-1L1,1M1,-1L-1,1"]}, "legend": {"orient": "none", "legendX": 124, "legendY": 193.5, "title": null, "padding": 0, "labelFontSize": 16, "labelFont": "Liberation Sans", "labelColor": "black", "symbolSize": 36, "symbolStrokeWidth": 1.5, "rowPadding": 13, "labelOffset": 8, "labelExpr": "datum.label == 'B' ? 'Bulge–like Clump' : 'Clump'"}}
   }},
  {"data": {"values": [{"label": "Spiral"}]},
   "mark": {"type": "text", "align": "right", "baseline": "middle"},
   "encoding": {
    "x": {"datum": 1.204, "type": "quantitative", "scale": {"domain": [0, 1.5], "nice": false, "zero": false}, "axis": {"orient": "top", "values": [0, 0.5, 1, 1.5], "labels": false, "title": null}},
    "y": {"datum": 10.08, "type": "quantitative", "scale": {"domain": [2, 11], "nice": false, "zero": false}, "axis": {"orient": "right", "values": [2, 4, 6, 8, 10], "labels": false, "title": null}},
    "text": {"field": "label"}
   }}
 ],
 "resolve": {"scale": {"x": "independent", "y": "independent"}}
},
{"width": 324, "height": 259, "data": {"name": "spiral_ratio"},
 "layer": [
  {"mark": {"type": "point", "filled": false, "strokeWidth": 1.5, "size": 36, "opacity": 1},
   "encoding": {
    "x": {"field": "z", "type": "quantitative", "scale": {"domain": [0, 1.5], "nice": false, "zero": false}, "axis": {"orient": "bottom", "values": [0, 0.5, 1, 1.5], "labels": false, "title": null}},
    "y": {"field": "v", "type": "quantitative", "scale": {"domain": [-3, 2], "nice": false, "zero": false}, "axis": {"orient": "left", "values": [-3, -2, -1, 0, 1], "labelPadding": 11, "title": "log (Mass/10⁻⁰·⁴ᴮʳᵉˢᵗ)", "titlePadding": 11, "titleY": 116}},
    "color": {"field": "t", "type": "nominal", "scale": {"domain": ["B", "C"], "range": ["#ff0000", "#0000ff"]}},
    "shape": {"field": "t", "type": "nominal", "scale": {"domain": ["B", "C"], "range": ["square", "M-1,-1L1,1M1,-1L-1,1"]}}
   }},
  {"data": {"values": [{"label": "Spiral"}]},
   "mark": {"type": "text", "align": "right", "baseline": "middle"},
   "encoding": {
    "x": {"datum": 1.204, "type": "quantitative", "scale": {"domain": [0, 1.5], "nice": false, "zero": false}, "axis": {"orient": "top", "values": [0, 0.5, 1, 1.5], "labels": false, "title": null}},
    "y": {"datum": 1.49, "type": "quantitative", "scale": {"domain": [-3, 2], "nice": false, "zero": false}, "axis": {"orient": "right", "values": [-3, -2, -1, 0, 1], "labels": false, "title": null}},
    "text": {"field": "label"}
   }}
 ],
 "resolve": {"scale": {"x": "independent", "y": "independent"}}
},
{"width": 324, "height": 259, "data": {"name": "flocc_mass"},
 "layer": [
  {"mark": {"type": "point", "filled": false, "strokeWidth": 1.5, "size": 36, "opacity": 1},
   "encoding": {
    "x": {"field": "z", "type": "quantitative", "scale": {"domain": [0, 1.5], "nice": false, "zero": false}, "axis": {"orient": "bottom", "values": [0, 0.5, 1, 1.5], "labels": false, "title": null}},
    "y": {"field": "v", "type": "quantitative", "scale": {"domain": [2, 11], "nice": false, "zero": false}, "axis": {"orient": "left", "values": [2, 4, 6, 8, 10], "labelPadding": 10, "title": "log Mass", "titlePadding": 18}},
    "color": {"field": "t", "type": "nominal", "scale": {"domain": ["B", "C"], "range": ["#ff0000", "#0000ff"]}},
    "shape": {"field": "t", "type": "nominal", "scale": {"domain": ["B", "C"], "range": ["square", "M-1,-1L1,1M1,-1L-1,1"]}}
   }},
  {"data": {"values": [{"label": "Flocculent"}]},
   "mark": {"type": "text", "align": "right", "baseline": "middle"},
   "encoding": {
    "x": {"datum": 1.361, "type": "quantitative", "scale": {"domain": [0, 1.5], "nice": false, "zero": false}, "axis": {"orient": "top", "values": [0, 0.5, 1, 1.5], "labels": false, "title": null}},
    "y": {"datum": 10.08, "type": "quantitative", "scale": {"domain": [2, 11], "nice": false, "zero": false}, "axis": {"orient": "right", "values": [2, 4, 6, 8, 10], "labels": false, "title": null}},
    "text": {"field": "label"}
   }}
 ],
 "resolve": {"scale": {"x": "independent", "y": "independent"}}
},
{"width": 324, "height": 259, "data": {"name": "flocc_ratio"},
 "layer": [
  {"mark": {"type": "point", "filled": false, "strokeWidth": 1.5, "size": 36, "opacity": 1},
   "encoding": {
    "x": {"field": "z", "type": "quantitative", "scale": {"domain": [0, 1.5], "nice": false, "zero": false}, "axis": {"orient": "bottom", "values": [0, 0.5, 1, 1.5], "labels": false, "title": null}},
    "y": {"field": "v", "type": "quantitative", "scale": {"domain": [-3, 2], "nice": false, "zero": false}, "axis": {"orient": "left", "values": [-3, -2, -1, 0, 1], "labelPadding": 11, "title": "log (Mass/10⁻⁰·⁴ᴮʳᵉˢᵗ)", "titlePadding": 11, "titleY": 116}},
    "color": {"field": "t", "type": "nominal", "scale": {"domain": ["B", "C"], "range": ["#ff0000", "#0000ff"]}},
    "shape": {"field": "t", "type": "nominal", "scale": {"domain": ["B", "C"], "range": ["square", "M-1,-1L1,1M1,-1L-1,1"]}}
   }},
  {"data": {"values": [{"label": "Flocculent"}]},
   "mark": {"type": "text", "align": "right", "baseline": "middle"},
   "encoding": {
    "x": {"datum": 1.361, "type": "quantitative", "scale": {"domain": [0, 1.5], "nice": false, "zero": false}, "axis": {"orient": "top", "values": [0, 0.5, 1, 1.5], "labels": false, "title": null}},
    "y": {"datum": 1.49, "type": "quantitative", "scale": {"domain": [-3, 2], "nice": false, "zero": false}, "axis": {"orient": "right", "values": [-3, -2, -1, 0, 1], "labels": false, "title": null}},
    "text": {"field": "label"}
   }}
 ],
 "resolve": {"scale": {"x": "independent", "y": "independent"}}
},
{"width": 324, "height": 259, "data": {"name": "ccrd_mass"},
 "layer": [
  {"mark": {"type": "point", "filled": false, "strokeWidth": 1.5, "size": 36, "opacity": 1},
   "encoding": {
    "x": {"field": "z", "type": "quantitative", "scale": {"domain": [0, 1.5], "nice": false, "zero": false}, "axis": {"orient": "bottom", "values": [0, 0.5, 1, 1.5], "labels": false, "title": null}},
    "y": {"field": "v", "type": "quantitative", "scale": {"domain": [2, 11], "nice": false, "zero": false}, "axis": {"orient": "left", "values": [2, 4, 6, 8, 10], "labelPadding": 10, "title": "log Mass", "titlePadding": 18}},
    "color": {"field": "t", "type": "nominal", "scale": {"domain": ["B", "C"], "range": ["#ff0000", "#0000ff"]}},
    "shape": {"field": "t", "type": "nominal", "scale": {"domain": ["B", "C"], "range": ["square", "M-1,-1L1,1M1,-1L-1,1"]}}
   }},
  {"data": {"values": [{"label": "Clump Cluster, Red Disk"}]},
   "mark": {"type": "text", "align": "right", "baseline": "middle"},
   "encoding": {
    "x": {"datum": 1.435, "type": "quantitative", "scale": {"domain": [0, 1.5], "nice": false, "zero": false}, "axis": {"orient": "top", "values": [0, 0.5, 1, 1.5], "labels": false, "title": null}},
    "y": {"datum": 10.08, "type": "quantitative", "scale": {"domain": [2, 11], "nice": false, "zero": false}, "axis": {"orient": "right", "values": [2, 4, 6, 8, 10], "labels": false, "title": null}},
    "text": {"field": "label"}
   }}
 ],
 "resolve": {"scale": {"x": "independent", "y": "independent"}}
},
{"width": 324, "height": 259, "data": {"name": "ccrd_ratio"},
 "layer": [
  {"mark": {"type": "point", "filled": false, "strokeWidth": 1.5, "size": 36, "opacity": 1},
   "encoding": {
    "x": {"field": "z", "type": "quantitative", "scale": {"domain": [0, 1.5], "nice": false, "zero": false}, "axis": {"orient": "bottom", "values": [0, 0.5, 1, 1.5], "labels": false, "title": null}},
    "y": {"field": "v", "type": "quantitative", "scale": {"domain": [-3, 2], "nice": false, "zero": false}, "axis": {"orient": "left", "values": [-3, -2, -1, 0, 1], "labelPadding": 11, "title": "log (Mass/10⁻⁰·⁴ᴮʳᵉˢᵗ)", "titlePadding": 11, "titleY": 116}},
    "color": {"field": "t", "type": "nominal", "scale": {"domain": ["B", "C"], "range": ["#ff0000", "#0000ff"]}},
    "shape": {"field": "t", "type": "nominal", "scale": {"domain": ["B", "C"], "range": ["square", "M-1,-1L1,1M1,-1L-1,1"]}}
   }},
  {"data": {"values": [{"label": "Clump Cluster, Red Disk"}]},
   "mark": {"type": "text", "align": "right", "baseline": "middle"},
   "encoding": {
    "x": {"datum": 1.435, "type": "quantitative", "scale": {"domain": [0, 1.5], "nice": false, "zero": false}, "axis": {"orient": "top", "values": [0, 0.5, 1, 1.5], "labels": false, "title": null}},
    "y": {"datum": 1.49, "type": "quantitative", "scale": {"domain": [-3, 2], "nice": false, "zero": false}, "axis": {"orient": "right", "values": [-3, -2, -1, 0, 1], "labels": false, "title": null}},
    "text": {"field": "label"}
   }}
 ],
 "resolve": {"scale": {"x": "independent", "y": "independent"}}
},
{"width": 324, "height": 259, "data": {"name": "cc_mass"},
 "layer": [
  {"mark": {"type": "point", "filled": false, "strokeWidth": 1.5, "size": 36, "opacity": 1},
   "encoding": {
    "x": {"field": "z", "type": "quantitative", "scale": {"domain": [0, 1.5], "nice": false, "zero": false}, "axis": {"orient": "bottom", "values": [0, 0.5, 1, 1.5], "format": "~g", "labelPadding": 11, "title": "Redshift", "titlePadding": 14}},
    "y": {"field": "v", "type": "quantitative", "scale": {"domain": [2, 11], "nice": false, "zero": false}, "axis": {"orient": "left", "values": [2, 4, 6, 8, 10], "labelPadding": 10, "title": "log Mass", "titlePadding": 18}},
    "color": {"field": "t", "type": "nominal", "scale": {"domain": ["B", "C"], "range": ["#ff0000", "#0000ff"]}},
    "shape": {"field": "t", "type": "nominal", "scale": {"domain": ["B", "C"], "range": ["square", "M-1,-1L1,1M1,-1L-1,1"]}}
   }},
  {"data": {"values": [{"label": "Clump Cluster"}]},
   "mark": {"type": "text", "align": "right", "baseline": "middle"},
   "encoding": {
    "x": {"datum": 1.306, "type": "quantitative", "scale": {"domain": [0, 1.5], "nice": false, "zero": false}, "axis": {"orient": "top", "values": [0, 0.5, 1, 1.5], "labels": false, "title": null}},
    "y": {"datum": 10.08, "type": "quantitative", "scale": {"domain": [2, 11], "nice": false, "zero": false}, "axis": {"orient": "right", "values": [2, 4, 6, 8, 10], "labels": false, "title": null}},
    "text": {"field": "label"}
   }}
 ],
 "resolve": {"scale": {"x": "independent", "y": "independent"}}
},
{"width": 324, "height": 259, "data": {"name": "cc_ratio"},
 "layer": [
  {"mark": {"type": "point", "filled": false, "strokeWidth": 1.5, "size": 36, "opacity": 1},
   "encoding": {
    "x": {"field": "z", "type": "quantitative", "scale": {"domain": [0, 1.5], "nice": false, "zero": false}, "axis": {"orient": "bottom", "values": [0, 0.5, 1, 1.5], "format": "~g", "labelPadding": 11, "title": "Redshift", "titlePadding": 14}},
    "y": {"field": "v", "type": "quantitative", "scale": {"domain": [-3, 2], "nice": false, "zero": false}, "axis": {"orient": "left", "values": [-3, -2, -1, 0, 1], "labelPadding": 11, "title": "log (Mass/10⁻⁰·⁴ᴮʳᵉˢᵗ)", "titlePadding": 11, "titleY": 116}},
    "color": {"field": "t", "type": "nominal", "scale": {"domain": ["B", "C"], "range": ["#ff0000", "#0000ff"]}},
    "shape": {"field": "t", "type": "nominal", "scale": {"domain": ["B", "C"], "range": ["square", "M-1,-1L1,1M1,-1L-1,1"]}}
   }},
  {"data": {"values": [{"label": "Clump Cluster"}]},
   "mark": {"type": "text", "align": "right", "baseline": "middle"},
   "encoding": {
    "x": {"datum": 1.306, "type": "quantitative", "scale": {"domain": [0, 1.5], "nice": false, "zero": false}, "axis": {"orient": "top", "values": [0, 0.5, 1, 1.5], "labels": false, "title": null}},
    "y": {"datum": 1.49, "type": "quantitative", "scale": {"domain": [-3, 2], "nice": false, "zero": false}, "axis": {"orient": "right", "values": [-3, -2, -1, 0, 1], "labels": false, "title": null}},
    "text": {"field": "label"}
   }}
 ],
 "resolve": {"scale": {"x": "independent", "y": "independent"}}
}
]
}
